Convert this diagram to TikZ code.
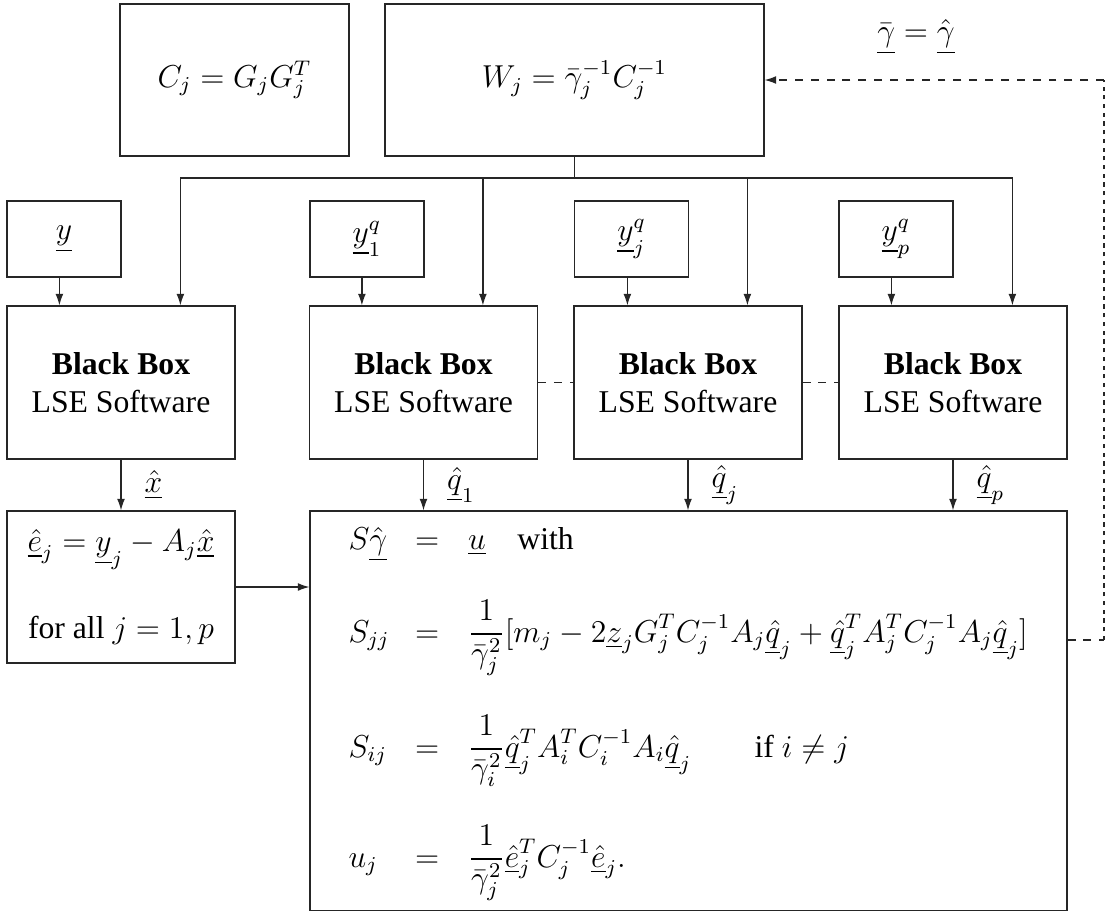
\documentclass[tikz,border=0pt,12pt]{standalone}
\usepackage{amsmath}
\usepackage{fontspec}
\setmainfont{Liberation Serif}
\usetikzlibrary{arrows.meta,calc}
\def\pxu{0.3785pt}
\newcommand{\eqrow}[2]{\makebox[25.2pt][l]{$#1$}$=$\hspace{10.9pt}#2}
\begin{document}
\begin{tikzpicture}[x=0.3785pt,y=-0.3785pt,
  box/.style={draw=black!85, line width=0.45pt, inner sep=0pt, align=center},
  bigbox/.style={box, minimum width={229*\pxu}, minimum height={152*\pxu}},
  smallbox/.style={box, minimum width={114*\pxu}, minimum height={76*\pxu}},
  bbox/.style={box, minimum width={228*\pxu}, minimum height={153*\pxu}},
  conn/.style={line width=0.45pt, draw=black!85},
  arr/.style={conn, -{Latex[length=4.4pt,width=3pt]}},
  lbl/.style={anchor=west, inner sep=0pt, xshift={23*\pxu}},
  eqline/.style={inner sep=0pt, anchor=base west}]
\useasboundingbox (0,0) rectangle (1107,912);

% top boxes
\node[bigbox] (C) at (234.5,80) {$C_j = G_jG_j^T$};
\node[box, minimum width={379*\pxu}, minimum height={152*\pxu}] (W) at (574.5,80) {$W_j = \bar\gamma_j^{-1}C_j^{-1}$};
\node[inner sep=0pt] (glab) at (916,37) {$\underline{\bar\gamma} = \underline{\hat\gamma}$};

% input boxes
\node[smallbox] (Y) at (64,239) {$\underline{y}$};
\node[smallbox] (Y1) at (367,239) {$\underline{y}_1^q$};
\node[smallbox] (Yj) at (631.5,239) {$\underline{y}_j^q$};
\node[smallbox] (Yp) at (896,239) {$\underline{y}_p^q$};

% black boxes
\node[bbox] (B1) at (121,382.5) {\textbf{Black Box}\\LSE Software};
\node[bbox] (B2) at (423.5,382.5) {\textbf{Black Box}\\LSE Software};
\node[bbox] (B3) at (688,382.5) {\textbf{Black Box}\\LSE Software};
\node[bbox] (B4) at (953,382.5) {\textbf{Black Box}\\LSE Software};

% lower boxes
\node[bbox, minimum height={152*\pxu}] (E) at (121,587) {$\underline{\hat e}_j = \underline{y}_j - A_j\underline{\hat x}$\\[16.5pt]for all $j = 1, p$};
\node[box, minimum width={757*\pxu}, minimum height={399.5*\pxu}] (S) at (688.5,710.75) {};

% equations in S
\node[eqline] (r1) at (348,549) {\eqrow{S\underline{\hat\gamma}}{$\underline{u}$\quad with}};
\node[eqline] (r2) at (348,642) {\eqrow{S_{jj}}{$\displaystyle\frac{1}{\bar\gamma_j^2}[m_j - 2\underline{z}_jG_j^TC_j^{-1}A_j\underline{\hat q}_j + \underline{\hat q}_j^TA_j^TC_j^{-1}A_j\underline{\hat q}_j]$}};
\node[eqline] (r3) at (348,757) {\eqrow{S_{ij}}{$\displaystyle\frac{1}{\bar\gamma_i^2}\underline{\hat q}_j^TA_i^TC_i^{-1}A_i\underline{\hat q}_j$\qquad if $i \neq j$}};
\node[eqline] (r4) at (348,867) {\eqrow{u_j}{$\displaystyle\frac{1}{\bar\gamma_j^2}\underline{\hat e}_j^TC_j^{-1}\underline{\hat e}_j.$}};

% distribution bus from W
\coordinate (bus) at (574.5,178);
\coordinate (t1) at ($(B1.north west)+(174,0)$);
\coordinate (t2) at ($(B2.north west)+(174,0)$);
\coordinate (t3) at ($(B3.north west)+(174,0)$);
\coordinate (t4) at ($(B4.north west)+(174,0)$);
\draw[conn] (W.south) -- (bus);
\draw[arr] (bus) -| (t1);
\draw[arr] (bus) -| (t2);
\draw[arr] (bus) -| (t3);
\draw[arr] (bus) -| (t4);

% inputs
\coordinate (a1) at ($(B1.north west)+(53,0)$);
\coordinate (a2) at ($(B2.north west)+(53,0)$);
\coordinate (a3) at ($(B3.north west)+(54,0)$);
\coordinate (a4) at ($(B4.north west)+(53,0)$);
\draw[arr] (Y.south -| a1) -- (a1);
\draw[arr] (Y1.south -| a2) -- (a2);
\draw[arr] (Yj.south -| a3) -- (a3);
\draw[arr] (Yp.south -| a4) -- (a4);

% dashed links between black boxes
\draw[conn, dashed] (B2.east) -- (B3.west);
\draw[conn, dashed] (B3.east) -- (B4.west);

% outputs
\draw[arr] (B1.south) -- node[lbl] {$\underline{\hat x}$} (E.north);
\draw[arr] (B2.south) -- node[lbl] {$\underline{\hat q}_1$} (B2.south |- S.north);
\draw[arr] (B3.south) -- node[lbl] {$\underline{\hat q}_j$} (B3.south |- S.north);
\draw[arr] (B4.south) -- node[lbl] {$\underline{\hat q}_p$} (B4.south |- S.north);

% e to S
\draw[arr] (E.east) -- (S.west |- E.east);

% feedback
\coordinate (fbA) at (1104,640);
\coordinate (fbB) at (1104,80);
\draw[conn, dashed] (S.east |- fbA) -- (fbA);
\draw[conn, dash pattern=on 1.6pt off 1.7pt] (fbA) -- (fbB);
\draw[arr, dashed] (fbB) -- (W.east);
\end{tikzpicture}
\end{document}
